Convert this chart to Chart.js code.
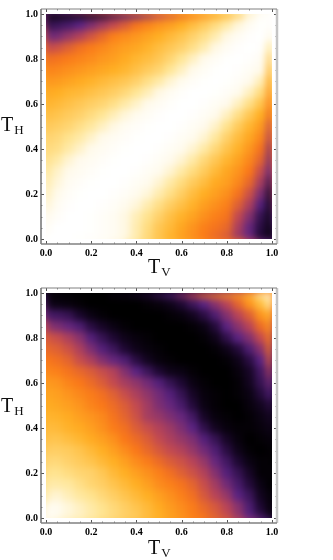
<!DOCTYPE html>
<html>
<head>
<meta charset="utf-8">
<title>T_H against T_V</title>
<script src="https://cdn.jsdelivr.net/npm/chart.js@4"></script>
<style>
    html, body { margin: 0; padding: 0; background: #fff; }
    body { position: relative; width: 333px; height: 560px; overflow: hidden; }
    canvas { position: absolute; left: 0; filter: blur(0.35px); }
    .label { position: absolute; font-family: "Liberation Serif", serif; font-size: 20px; line-height: 20px; color: #111; white-space: nowrap; }
    .label sub { font-size: 13px; line-height: 0; vertical-align: -3px; margin-left: 1px; }
</style>
</head>
<body>
<canvas id="topChart" width="333" height="280" style="top:0"></canvas>
<canvas id="bottomChart" width="333" height="281" style="top:279px"></canvas>
<div class="label" style="left:1px;top:114px">T<sub>H</sub></div>
<div class="label" style="left:148px;top:256px">T<sub>V</sub></div>
<div class="label" style="left:1px;top:395px">T<sub>H</sub></div>
<div class="label" style="left:148px;top:537px">T<sub>V</sub></div>
<script>
// columns are T_V, rows are T_H from 1.0 down to 0.0
const tvValues = [0, 0.05, 0.1, 0.15, 0.2, 0.25, 0.3, 0.35, 0.4, 0.45, 0.5, 0.55, 0.6, 0.65, 0.7, 0.75, 0.8, 0.85, 0.9, 0.95, 1];
const thValues = [1, 0.95, 0.9, 0.85, 0.8, 0.75, 0.7, 0.65, 0.6, 0.55, 0.5, 0.45, 0.4, 0.35, 0.3, 0.25, 0.2, 0.15, 0.1, 0.05, 0];
const tickLabels = [0, 0.2, 0.4, 0.6, 0.8, 1];

const topValues = [
    [1, 1, 2, 3, 4, 7, 12, 16, 20, 27, 35, 40, 45, 50, 55, 60, 65, 72, 85, 95, 100],
    [11, 13, 15, 18, 24, 30, 36, 41, 47, 51, 55, 58, 62, 66, 70, 75, 80, 86, 92, 99, 97],
    [21, 23, 28, 33, 39, 44, 50, 53, 56, 59, 62, 65, 68, 72, 76, 81, 87, 93, 98, 100, 88],
    [35, 38, 42, 46, 49, 52, 55, 58, 60, 63, 66, 69, 72, 76, 81, 87, 93, 98, 100, 98, 80],
    [45, 47, 49, 51, 53, 56, 58, 61, 64, 66, 69, 73, 78, 83, 88, 94, 99, 100, 98, 93, 72],
    [50, 52, 54, 56, 58, 60, 62, 64, 67, 70, 73, 78, 83, 88, 94, 99, 100, 98, 94, 88, 66],
    [55, 57, 59, 61, 63, 65, 67, 69, 72, 76, 80, 85, 90, 95, 99, 100, 99, 95, 89, 82, 60],
    [60, 62, 64, 65, 67, 69, 71, 74, 78, 82, 87, 92, 97, 100, 100, 99, 95, 90, 83, 75, 55],
    [63, 65, 67, 69, 71, 73, 76, 80, 84, 88, 93, 97, 100, 100, 98, 94, 89, 83, 76, 68, 50],
    [66, 68, 70, 72, 75, 78, 82, 86, 90, 94, 98, 100, 100, 98, 94, 89, 83, 76, 69, 62, 45],
    [69, 71, 73, 76, 79, 83, 87, 92, 96, 99, 100, 100, 98, 94, 89, 84, 77, 70, 64, 57, 38],
    [72, 74, 77, 80, 84, 88, 92, 96, 99, 100, 100, 98, 94, 90, 85, 79, 72, 66, 60, 52, 33],
    [74, 76, 80, 84, 88, 92, 96, 99, 100, 100, 98, 94, 90, 85, 80, 74, 68, 63, 56, 47, 26],
    [76, 80, 85, 89, 92, 96, 99, 100, 100, 98, 94, 89, 85, 80, 74, 69, 64, 59, 52, 43, 22],
    [78, 84, 88, 92, 96, 99, 100, 100, 98, 94, 90, 85, 80, 75, 70, 65, 60, 55, 48, 37, 18],
    [80, 86, 92, 96, 99, 100, 100, 98, 94, 90, 85, 80, 75, 70, 66, 61, 58, 52, 44, 31, 12],
    [82, 88, 95, 99, 100, 100, 98, 95, 90, 86, 81, 76, 71, 66, 62, 58, 54, 47, 38, 24, 6],
    [85, 92, 98, 100, 100, 98, 95, 90, 86, 81, 76, 71, 67, 63, 58, 54, 50, 42, 32, 17, 4],
    [88, 96, 100, 100, 99, 96, 92, 87, 82, 77, 72, 67, 63, 59, 54, 50, 47, 36, 25, 12, 3],
    [94, 100, 100, 100, 99, 96, 92, 87, 81, 75, 69, 65, 60, 55, 50, 47, 44, 32, 20, 10, 2],
    [100, 100, 100, 99, 98, 96, 92, 87, 81, 74, 68, 63, 58, 53, 48, 44, 40, 28, 20, 8, 1]
];

const bottomValues = [
    [0, 0, 0, 0, 0, 0, 2, 3, 5, 8, 12, 16, 25, 35, 45, 50, 55, 58, 65, 80, 97],
    [5, 3, 2, 1, 0, 0, 0, 0, 0, 1, 2, 4, 8, 13, 18, 26, 34, 43, 55, 66, 80],
    [15, 14, 12, 7, 3, 1, 0, 0, 0, 0, 0, 1, 2, 5, 10, 16, 25, 34, 42, 55, 64],
    [28, 24, 20, 16, 10, 6, 3, 1, 0, 0, 0, 0, 0, 1, 3, 9, 18, 26, 34, 45, 56],
    [40, 37, 32, 26, 17, 12, 8, 4, 2, 1, 0, 0, 0, 0, 1, 4, 11, 18, 25, 36, 50],
    [44, 42, 38, 32, 24, 17, 13, 8, 4, 2, 1, 0, 0, 0, 0, 1, 4, 9, 16, 26, 46],
    [48, 46, 43, 37, 32, 25, 20, 16, 10, 5, 2, 1, 0, 0, 0, 0, 1, 4, 10, 18, 40],
    [52, 50, 47, 44, 41, 37, 33, 25, 18, 13, 8, 4, 3, 1, 0, 0, 0, 2, 6, 14, 30],
    [57, 55, 51, 48, 45, 41, 36, 31, 27, 22, 17, 12, 8, 3, 1, 0, 0, 1, 5, 12, 22],
    [60, 58, 55, 52, 49, 46, 42, 37, 32, 27, 22, 17, 12, 6, 2, 1, 0, 1, 3, 9, 16],
    [62, 60, 58, 55, 51, 48, 45, 41, 36, 30, 24, 20, 15, 9, 3, 1, 0, 0, 2, 5, 10],
    [64, 63, 61, 58, 55, 52, 47, 43, 38, 31, 28, 24, 20, 14, 6, 2, 1, 0, 1, 3, 6],
    [66, 65, 63, 61, 58, 54, 49, 46, 41, 37, 33, 29, 24, 18, 11, 5, 2, 1, 1, 2, 4],
    [68, 68, 66, 64, 61, 58, 54, 48, 45, 41, 36, 32, 28, 24, 17, 12, 6, 2, 0, 1, 2],
    [71, 71, 70, 68, 65, 62, 58, 53, 48, 44, 40, 36, 33, 28, 22, 16, 10, 4, 1, 0, 1],
    [74, 74, 72, 70, 68, 65, 62, 58, 53, 49, 45, 41, 38, 34, 28, 20, 14, 8, 3, 1, 1],
    [77, 77, 75, 73, 72, 69, 65, 62, 58, 54, 50, 46, 42, 38, 33, 25, 17, 12, 6, 1, 1],
    [80, 80, 79, 76, 73, 71, 68, 65, 62, 58, 53, 50, 47, 43, 37, 30, 22, 15, 9, 3, 0],
    [83, 85, 82, 79, 77, 74, 71, 68, 65, 62, 58, 54, 50, 46, 40, 34, 28, 18, 13, 5, 1],
    [92, 90, 86, 83, 80, 77, 74, 71, 68, 65, 61, 57, 53, 49, 44, 40, 34, 26, 16, 8, 1],
    [100, 92, 86, 84, 81, 78, 75, 72, 70, 66, 63, 59, 55, 50, 47, 42, 37, 28, 18, 12, 3]
];

// colour ramp, value then r g b
const rampStops = [
    [0, 0, 0, 0],
    [8, 30, 8, 50],
    [18, 90, 35, 130],
    [35, 190, 70, 85],
    [48, 250, 120, 25],
    [62, 255, 175, 35],
    [78, 255, 230, 150],
    [88, 255, 250, 235],
    [100, 255, 255, 255]
];

function rampColor(value) {
    let i = 1;
    while (i < rampStops.length - 1 && value > rampStops[i][0]) i++;
    const a = rampStops[i - 1], b = rampStops[i];
    const t = (value - a[0]) / (b[0] - a[0]);
    const mix = k => Math.round(a[k] + (b[k] - a[k]) * t);
    return `rgb(${mix(1)},${mix(2)},${mix(3)})`;
}

const blurPlugin = {
    id: "smoothCells",
    afterDatasetsDraw(chart) {
        // the reference is a smooth density plot, soften the cells inside the data square
        const { ctx, canvas, scales } = chart;
        const left = scales.x.getPixelForValue(0), right = scales.x.getPixelForValue(1);
        const top = scales.y.getPixelForValue(1), bottom = scales.y.getPixelForValue(0);
        const w = right - left, h = bottom - top, m = 20;
        const off = document.createElement("canvas");
        off.width = w + 2 * m;
        off.height = h + 2 * m;
        const offCtx = off.getContext("2d");
        offCtx.drawImage(canvas, left, top, w, h, 0, 0, w + 2 * m, h + 2 * m);
        offCtx.drawImage(canvas, left, top, w, h, m, m, w, h);
        ctx.save();
        ctx.beginPath();
        ctx.rect(left, top, w, h);
        ctx.clip();
        ctx.filter = "blur(3.5px)";
        ctx.drawImage(off, left - m, top - m);
        ctx.restore();
    }
};

const framePlugin = {
    id: "frameTicks",
    afterDraw(chart) {
        const { ctx, scales, chartArea: a } = chart;
        ctx.save();
        tvValues.forEach(v => {
            const major = Math.round(v * 100) % 20 === 0;
            const len = major ? 3 : 1.5;
            const px = Math.round(scales.x.getPixelForValue(v)) + 0.5;
            const py = Math.round(scales.y.getPixelForValue(v)) + 0.5;
            ctx.strokeStyle = major ? "#555" : "#888";
            ctx.lineWidth = 1;
            ctx.beginPath();
            ctx.moveTo(px, a.bottom); ctx.lineTo(px, a.bottom - len);
            ctx.moveTo(px, a.top); ctx.lineTo(px, a.top + len);
            ctx.moveTo(a.left, py); ctx.lineTo(a.left + len, py);
            ctx.moveTo(a.right, py); ctx.lineTo(a.right - len, py);
            ctx.stroke();
        });
        const side = (color, width, x1, y1, x2, y2) => {
            ctx.strokeStyle = color;
            ctx.lineWidth = width;
            ctx.beginPath();
            ctx.moveTo(x1, y1);
            ctx.lineTo(x2, y2);
            ctx.stroke();
        };
        side("#c4c4c4", 2.5, a.right, a.top, a.right, a.bottom);
        side("#808080", 1, a.left, a.top, a.right, a.top);
        side("#707070", 1.5, a.left, a.top, a.left, a.bottom);
        side("#808080", 1.5, a.left, a.bottom, a.right, a.bottom);
        ctx.restore();
    }
};

function buildPoints(rows) {
    const points = [];
    thValues.forEach((th, r) => {
        tvValues.forEach((tv, c) => {
            points.push({ x: tv, y: th, v: rows[r][c] });
        });
    });
    return points;
}

function axis(tickSize, horizontal) {
    return {
        type: "linear",
        min: -0.0221,
        max: 1.0221,
        grid: { display: false, drawTicks: false },
        border: { display: false },
        afterBuildTicks: scale => {
            scale.ticks = tickLabels.map(v => ({ value: v }));
        },
        afterFit: scale => {
            if (horizontal) scale.height = tickSize;
            else scale.width = tickSize;
        },
        ticks: {
            autoSkip: false,
            maxRotation: 0,
            padding: 3,
            color: "#000",
            font: { family: "'Liberation Serif', serif", weight: "bold", size: 10 },
            callback: value => value.toFixed(1)
        }
    };
}

function makeChart(id, rows, xHeight) {
    const cellRadius = 6 * Math.SQRT2;
    return new Chart(document.getElementById(id).getContext("2d"), {
        type: "scatter",
        data: {
            datasets: [{
                data: buildPoints(rows),
                pointStyle: "rect",
                pointRadius: cellRadius,
                pointBorderWidth: 0,
                backgroundColor: ctx => rampColor(ctx.raw.v),
                clip: -5
            }]
        },
        options: {
            responsive: false,
            animation: false,
            events: [],
            layout: { padding: { left: 0, top: 8, right: 56, bottom: 0 } },
            plugins: { legend: { display: false }, tooltip: { enabled: false } },
            scales: { x: axis(xHeight, true), y: axis(41, false) }
        },
        plugins: [blurPlugin, framePlugin]
    });
}

makeChart("topChart", topValues, 36);
makeChart("bottomChart", bottomValues, 37);
</script>
</body>
</html>
